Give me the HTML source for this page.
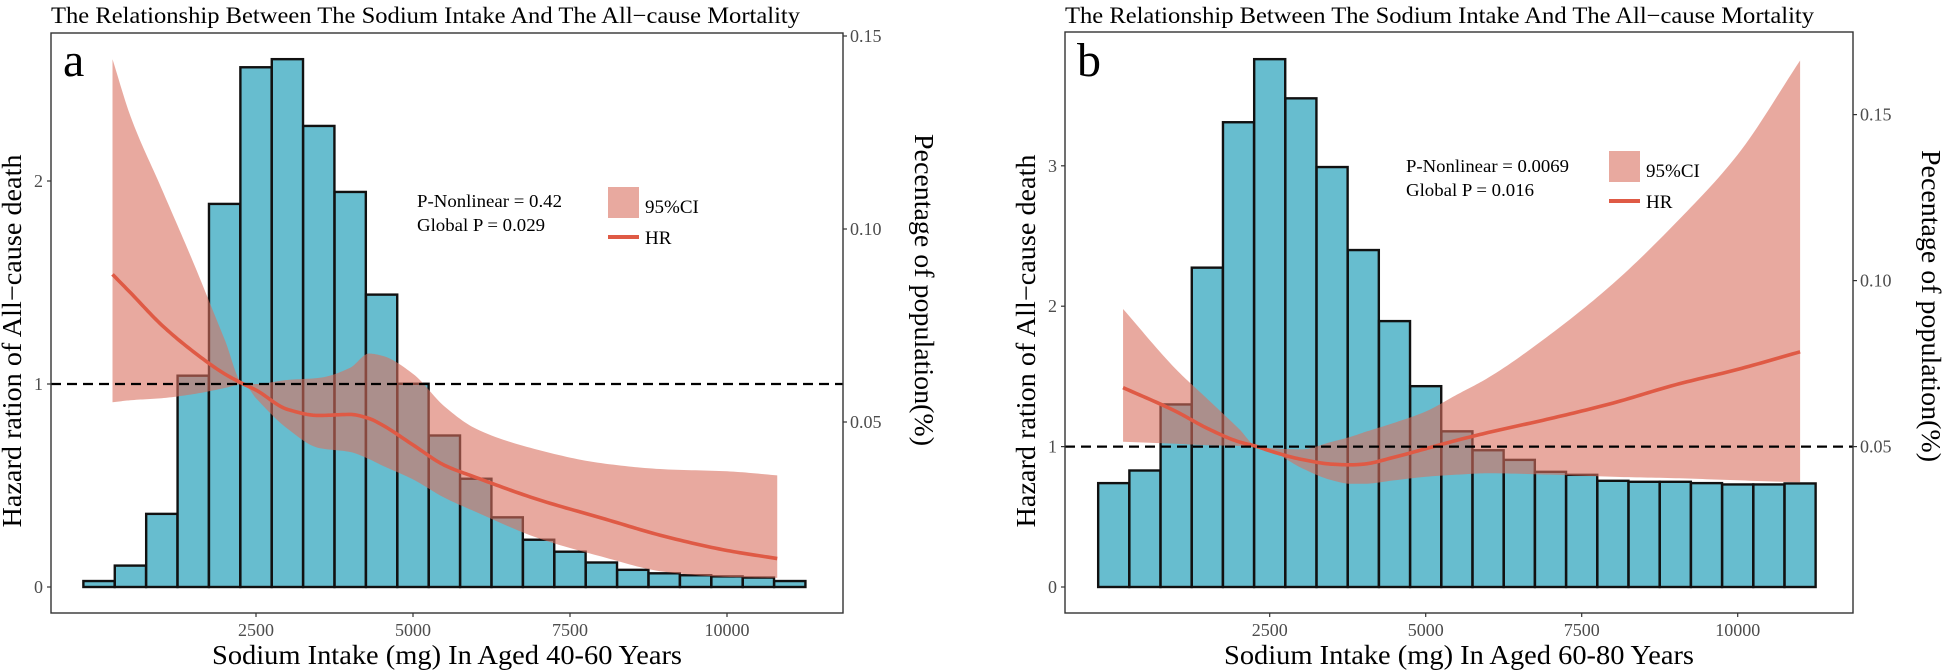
<!DOCTYPE html>
<html><head><meta charset="utf-8"><style>
html,body{margin:0;padding:0;background:#fff;}
svg{display:block;font-family:"Liberation Serif",serif;}
</style></head><body>
<svg id="chart" width="1945" height="672" viewBox="0 0 1945 672" xmlns="http://www.w3.org/2000/svg"></svg>
<script>
// ---------- data ----------
const binCenters = [0,500,1000,1500,2000,2500,3000,3500,4000,4500,5000,5500,6000,6500,7000,7500,8000,8500,9000,9500,10000,10500,11000];
const pctA = [0.0088,0.0128,0.0262,0.0620,0.1065,0.1419,0.1440,0.1267,0.1096,0.0830,0.0599,0.0465,0.0353,0.0253,0.0195,0.0164,0.0136,0.0117,0.0108,0.0103,0.0100,0.0097,0.0088];
const pctB = [0.0390,0.0428,0.0627,0.1039,0.1477,0.1667,0.1549,0.1342,0.1092,0.0878,0.0682,0.0546,0.0489,0.0460,0.0424,0.0415,0.0397,0.0394,0.0394,0.0390,0.0386,0.0386,0.0389];
const curveXA = [215,500,1000,1500,2000,2300,2500,3000,3500,4000,4300,4500,5000,5500,6000,7000,8000,9000,10000,10800];
const hrA    = [1.54,1.45,1.29,1.16,1.05,1.0,0.97,0.875,0.845,0.85,0.83,0.80,0.70,0.60,0.54,0.43,0.34,0.25,0.18,0.14];
const upperA = [2.60,2.32,1.96,1.60,1.22,1.0,1.0,1.02,1.03,1.08,1.15,1.14,1.05,0.89,0.78,0.675,0.61,0.58,0.57,0.55];
const lowerA = [0.91,0.92,0.93,0.95,0.98,1.0,0.93,0.78,0.685,0.665,0.63,0.60,0.53,0.44,0.37,0.24,0.15,0.075,0.05,0.045];
const curveXB = [150,1000,1500,2000,2300,2500,3000,3500,3800,4000,4500,5000,5500,6000,7000,8000,9000,10000,11000];
const hrB    = [1.42,1.25,1.13,1.035,1.0,0.97,0.91,0.875,0.87,0.875,0.925,0.985,1.045,1.10,1.20,1.31,1.44,1.55,1.675];
const upperB = [1.98,1.55,1.34,1.13,1.0,0.99,0.98,1.035,1.07,1.10,1.17,1.25,1.37,1.49,1.80,2.16,2.59,3.08,3.75];
const lowerB = [1.035,1.02,1.01,1.005,1.0,0.975,0.85,0.76,0.735,0.735,0.76,0.785,0.80,0.81,0.80,0.785,0.775,0.76,0.745];
const xTicks = [2500,5000,7500,10000];
const yTicksA = [0,1,2];
const yTicksB = [0,1,2,3];
const rTicksA = [0.05,0.10,0.15];
const rTicksB = [0.05,0.10,0.15];

const NS = "http://www.w3.org/2000/svg";
const svg = document.getElementById('chart');
function mk(tag, attrs, parent, txt){
  const e = document.createElementNS(NS, tag);
  for (const k in attrs) e.setAttribute(k, attrs[k]);
  if (txt !== undefined) e.textContent = txt;
  (parent||svg).appendChild(e);
  return e;
}
// monotone cubic (Fritsch-Carlson) sampled densely
function mono(xs, ys){
  const n = xs.length, d = [], m = new Array(n);
  for (let i=0;i<n-1;i++) d.push((ys[i+1]-ys[i])/(xs[i+1]-xs[i]));
  m[0]=d[0]; m[n-1]=d[n-2];
  for (let i=1;i<n-1;i++){
    if (d[i-1]*d[i]<=0) m[i]=0;
    else { const w1=2*(xs[i+1]-xs[i])+(xs[i]-xs[i-1]), w2=(xs[i+1]-xs[i])+2*(xs[i]-xs[i-1]);
      m[i]=(w1+w2)/(w1/d[i-1]+w2/d[i]); }
  }
  const out=[];
  for (let i=0;i<n-1;i++){
    const h=xs[i+1]-xs[i];
    for (let s=0;s<16;s++){
      const t=s/16, t2=t*t, t3=t2*t;
      const y=(2*t3-3*t2+1)*ys[i]+(t3-2*t2+t)*h*m[i]+(-2*t3+3*t2)*ys[i+1]+(t3-t2)*h*m[i+1];
      out.push([xs[i]+t*h, y]);
    }
  }
  out.push([xs[n-1], ys[n-1]]);
  return out;
}

function panel(cfg){
  const g = mk('g', {});
  
  
  const xS = v => cfg.x0 + v*cfg.xk;
  const yS = v => cfg.y0 - v*cfg.yk;
  const rS = v => cfg.r0 - v*cfg.rk;
  const half = 250*cfg.xk*0.995;
  const pathOf = pts => pts.map((p,i)=>(i?"L":"M")+xS(p[0]).toFixed(2)+","+yS(p[1]).toFixed(2)).join(" ");
  // bars
  const bg = mk('g', {}, g);
  
  
  cfg.pct.forEach((p,i)=>{
    const top = rS(p);
    const r = mk('rect', {x:xS(binCenters[i])-half, y:top, width:half*2, height:cfg.y0-top, fill:'#67BDCF', stroke:'#111', 'stroke-width':2.4}, bg);
    
    
  });
  // band
  const up = mono(cfg.cx, cfg.upper);
  const lo = mono(cfg.cx, cfg.lower).reverse();
  const band = mk('path', {d: pathOf(up)+" "+pathOf(lo).replace(/^M/,"L")+" Z", fill:'#D9705F', 'fill-opacity':0.6, stroke:'none'}, g);
  
  
  const line = mk('path', {d: pathOf(mono(cfg.cx, cfg.hr)), fill:'none', stroke:'#DF5A45', 'stroke-width':3.6}, g);
  
  
  // dashed ref
  const ref = mk('line', {x1:cfg.L, x2:cfg.R, y1:yS(1), y2:yS(1), stroke:'#000', 'stroke-width':2.2, 'stroke-dasharray':'10,6'}, g);
  
  
  // frame
  const fr = mk('rect', {x:cfg.L, y:cfg.T, width:cfg.R-cfg.L, height:cfg.B-cfg.T, fill:'none', stroke:'#333', 'stroke-width':1.4}, g);
  
  
  xTicks.forEach(t=>{
    mk('line',{x1:xS(t),x2:xS(t),y1:cfg.B,y2:cfg.B+4,stroke:'#333','stroke-width':1.2},g);
    const tl = mk('text',{x:xS(t),y:636,'text-anchor':'middle','font-size':18,fill:'#4d4d4d'},g,String(t));
    
    
  });
  cfg.yTicks.forEach(t=>{
    mk('line',{x1:cfg.L-4,x2:cfg.L,y1:yS(t),y2:yS(t),stroke:'#333','stroke-width':1.2},g);
    const tl = mk('text',{x:cfg.L-8,y:yS(t)+6,'text-anchor':'end','font-size':18,fill:'#4d4d4d'},g,String(t));
    
    
  });
  cfg.rTicks.forEach(t=>{
    mk('line',{x1:cfg.R,x2:cfg.R+4,y1:rS(t),y2:rS(t),stroke:'#333','stroke-width':1.2},g);
    const tl = mk('text',{x:cfg.R+7,y:rS(t)+6,'text-anchor':'start','font-size':18,fill:'#4d4d4d'},g,t.toFixed(2));
    
    
  });
  const ti = mk('text',{x:cfg.L,y:23,'font-size':23,textLength:749,lengthAdjust:'spacingAndGlyphs',fill:'#000'},g,'The Relationship Between The Sodium Intake And The All\u2212cause Mortality');
  
  
  const lt = mk('text',{x:cfg.L+12,y:76,'font-size':48,fill:'#000'},g,cfg.letter);
  
  
  const xt = mk('text',{x:(cfg.L+cfg.R)/2,y:664,'text-anchor':'middle','font-size':27,textLength:470,lengthAdjust:'spacingAndGlyphs',fill:'#000'},g,cfg.xTitle);
  
  
  const yt = mk('text',{x:0,y:0,'text-anchor':'middle','font-size':27,textLength:373,lengthAdjust:'spacingAndGlyphs',fill:'#000',transform:'translate('+(cfg.L-30)+',341) rotate(-90)'},g,'Hazard ration of All\u2212cause death');
  
  
  const rt = mk('text',{x:0,y:0,'text-anchor':'middle','font-size':27,textLength:312,lengthAdjust:'spacingAndGlyphs',fill:'#000',transform:'translate('+cfg.rtX+','+cfg.rtY+') rotate(90)'},g,'Pecentage of population(%)');
  
  
  const a1 = mk('text',{x:cfg.annX,y:cfg.annY,'font-size':18,textLength:cfg.annW1,lengthAdjust:'spacingAndGlyphs',fill:'#000'},g,cfg.ann1);
  
  
  const a2 = mk('text',{x:cfg.annX,y:cfg.annY+24,'font-size':18,textLength:cfg.annW2,lengthAdjust:'spacingAndGlyphs',fill:'#000'},g,cfg.ann2);
  
  
  const lg = mk('g',{},g);
  
  
  mk('rect',{x:cfg.legX,y:cfg.legY,width:31,height:31,fill:'#D9705F','fill-opacity':0.6},lg);
  mk('text',{x:cfg.legX+37,y:cfg.legY+26,'font-size':19,fill:'#000'},lg,'95%CI');
  mk('line',{x1:cfg.legX,x2:cfg.legX+31,y1:cfg.legY+50,y2:cfg.legY+50,stroke:'#DF5A45','stroke-width':4},lg);
  mk('text',{x:cfg.legX+37,y:cfg.legY+57,'font-size':19,fill:'#000'},lg,'HR');
}

panel({name:'panel-a', letter:'a', L:51, R:843, T:33, B:613,
  x0:99, xk:0.0628, y0:587, yk:203, r0:615, rk:3860,
  pct:pctA, cx:curveXA, hr:hrA, upper:upperA, lower:lowerA,
  yTicks:yTicksA, rTicks:rTicksA,
  xTitle:'Sodium Intake (mg) In Aged 40-60 Years', rtX:915, rtY:290,
  ann1:'P-Nonlinear = 0.42', ann2:'Global P = 0.029', annX:417, annY:207, annW1:145, annW2:128,
  legX:608, legY:187});
panel({name:'panel-b', letter:'b', L:1065, R:1853, T:32, B:613,
  x0:1113.7, xk:0.0624, y0:587, yk:140.4, r0:612.6, rk:3320,
  pct:pctB, cx:curveXB, hr:hrB, upper:upperB, lower:lowerB,
  yTicks:yTicksB, rTicks:rTicksB,
  xTitle:'Sodium Intake (mg) In Aged 60-80 Years', rtX:1922, rtY:306,
  ann1:'P-Nonlinear = 0.0069', ann2:'Global P = 0.016', annX:1406, annY:172, annW1:163, annW2:128,
  legX:1609, legY:151});
</script>
</body></html>
